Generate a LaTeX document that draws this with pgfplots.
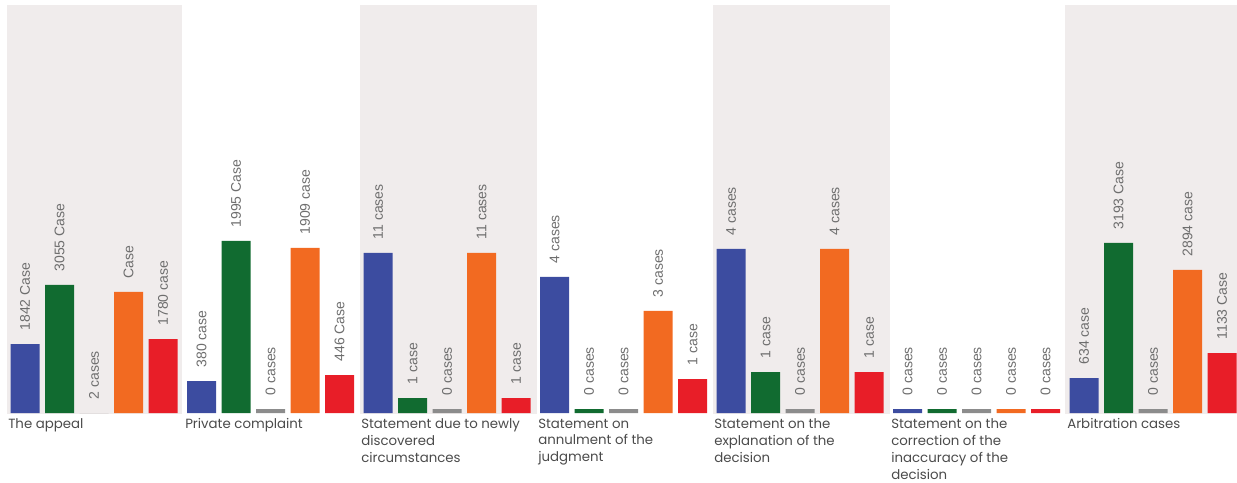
\documentclass[border=0pt]{standalone}
\usepackage{fontspec}
\setmainfont{Liberation Sans}
\newfontfamily\catfont{Poppins}
\usepackage{pgfplots}
\pgfplotsset{compat=1.18}
\definecolor{cblue}{RGB}{60,76,160}
\definecolor{cgreen}{RGB}{17,107,48}
\definecolor{cgray}{RGB}{140,140,140}
\definecolor{corange}{RGB}{242,106,33}
\definecolor{cred}{RGB}{232,30,40}
\definecolor{panel}{RGB}{240,236,236}
\definecolor{vlab}{RGB}{110,110,110}
\definecolor{clab}{RGB}{75,75,75}
\begin{document}
\begin{tikzpicture}
\begin{axis}[
  width=927.75pt, height=361.5pt, scale only axis,
  xmin=0, xmax=1237, ymin=-69, ymax=413,
  axis lines=none, xtick=\empty, ytick=\empty,
  clip=false, set layers,
  bar width=29, bar shift=0pt,
  nodes near coords, point meta=explicit symbolic,
  every node near coord/.append style={font=\fontsize{10.5}{12}\selectfont, text=vlab, rotate=90, anchor=west, inner xsep=10pt, inner ysep=0pt},
]
\begin{pgfonlayer}{axis background}
\fill[panel] (axis cs:7,-1) rectangle (axis cs:182,408);
\fill[panel] (axis cs:360,-1) rectangle (axis cs:537,408);
\fill[panel] (axis cs:713,-1) rectangle (axis cs:890,408);
\fill[panel] (axis cs:1065,-1) rectangle (axis cs:1237,408);
\end{pgfonlayer}
\addplot[ybar, fill=cblue, draw=none] coordinates {
 (25,69) [1842 Case] (201.5,32) [380 case] (378,160) [11 cases] (554.5,136) [4 cases]
 (731,164) [4 cases] (907.5,4) [0 cases] (1084,35) [634 case]};
\addplot[ybar, fill=cgreen, draw=none] coordinates {
 (59.5,128) [3055 Case] (236,172) [1995 Case] (412.5,15) [1 case] (589,4) [0 cases]
 (765.5,41) [1 case] (942,4) [0 cases] (1118.5,170) [3193 Case]};
\addplot[ybar, fill=cgray, draw=none] coordinates {
 (94,0) [2 cases] (270.5,4) [0 cases] (447,4) [0 cases] (623.5,4) [0 cases]
 (800,4) [0 cases] (976.5,4) [0 cases] (1153,4) [0 cases]};
\addplot[ybar, fill=corange, draw=none] coordinates {
 (128.5,121) [Case] (305,165) [1909 case] (481.5,160) [11 cases] (658,102) [3 cases]
 (834.5,164) [4 cases] (1011,4) [0 cases] (1187.5,143) [2894 case]};
\addplot[ybar, fill=cred, draw=none] coordinates {
 (163,74) [1780 case] (339.5,38) [446 Case] (516,15) [1 case] (692.5,34) [1 case]
 (869,41) [1 case] (1045.5,4) [0 cases] (1222,60) [1133 Case]};
\begin{scope}[every node/.style={anchor=north west, align=left, inner sep=0pt, text=clab, font=\catfont\fontsize{10}{12.6}\selectfont}]
\node at (axis cs:8,-5.5) {The appeal};
\node at (axis cs:185,-5.5) {Private complaint};
\node at (axis cs:361,-5.5) {Statement due to newly\\discovered\\circumstances};
\node at (axis cs:538,-5.5) {Statement on\\annulment of the\\judgment};
\node at (axis cs:714,-5.5) {Statement on the\\explanation of the\\decision};
\node at (axis cs:891,-5.5) {Statement on the\\correction of the\\inaccuracy of the\\decision};
\node at (axis cs:1067,-5.5) {Arbitration cases};
\end{scope}
\end{axis}
\pgfresetboundingbox
\useasboundingbox (current axis.south west) rectangle (current axis.north east);
\end{tikzpicture}
\end{document}
